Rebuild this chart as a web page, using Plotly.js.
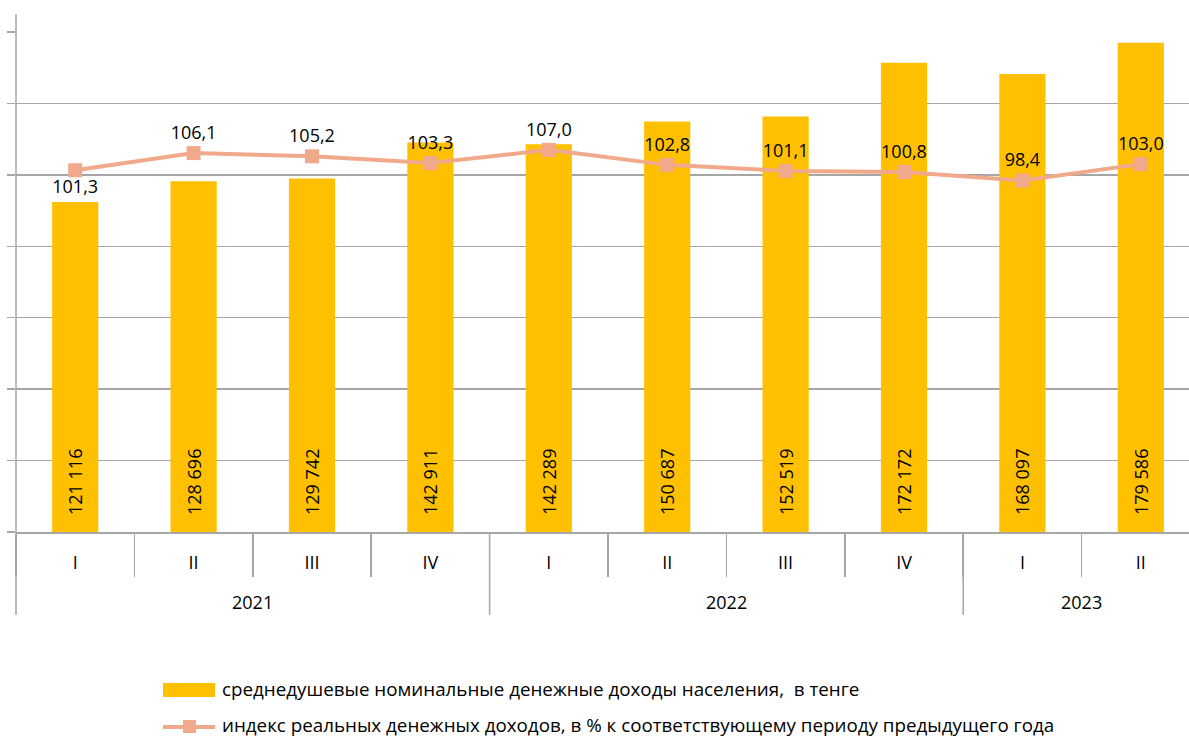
<!DOCTYPE html>
<html>
<head>
<meta charset="utf-8">
<script src="https://cdn.plot.ly/plotly-3.0.1.min.js"></script>
<style>
html,body{margin:0;padding:0;overflow:hidden;background:#fff;}
#chart{width:1200px;height:737px;}
</style>
</head>
<body>
<div id="chart"></div>
<script>
const years = ["2021","2021","2021","2021","2022","2022","2022","2022","2023","2023"];
const quarters = ["I","II","III","IV","I","II","III","IV","I","II"];
const incomes = [121116,128696,129742,142911,142289,150687,152519,172172,168097,179586];
const realIndex = [101.3,106.1,105.2,103.3,107.0,102.8,101.1,100.8,98.4,103.0];
const barName = "среднедушевые номинальные денежные доходы населения,  в тенге";
const lineName = "индекс реальных денежных доходов, в % к соответствующему периоду предыдущего года";

const FONT = "Open Sans";
const GRID = "#A6A6A6";
const BAR = "#FFC000";
const LINE = "#F1A98B";

function fmtThousands(v){
  return String(v).replace(/\B(?=(\d{3})+(?!\d))/g, "\u00a0");
}
const pos = quarters.map((q, i) => i);
const bounds = quarters.map((q, i) => i - 0.5).concat([quarters.length - 0.5]);
const barText = incomes.map(v => "\u00a0\u00a0\u00a0" + fmtThousands(v));
const lineText = realIndex.map(v => v.toFixed(1).replace(".", ","));
const linePos = realIndex.map((v,i) => i === 0 ? "bottom center" : "top center");

// year groups
const groups = [];
years.forEach((y, i) => {
  if (!groups.length || groups[groups.length-1].year !== y) groups.push({year: y, start: i, end: i});
  else groups[groups.length-1].end = i;
});

const px = v => (v - 16) / 1184;
const py = v => (532 - v) / 500;

const traces = [
  {
    type: "bar",
    x: pos,
    y: incomes,
    name: barName,
    marker: {color: BAR},
    text: barText,
    textposition: "inside",
    insidetextanchor: "start",
    textangle: -90,
    textfont: {family: FONT, size: 18, color: "#000"},
    hoverinfo: "y",
    yaxis: "y"
  },
  {
    type: "scatter",
    mode: "lines+markers+text",
    x: pos,
    y: realIndex,
    name: lineName,
    line: {color: LINE, width: 4},
    marker: {symbol: "square", size: 14, color: LINE},
    text: lineText,
    textposition: linePos,
    textfont: {family: FONT, size: 18, color: "#000"},
    cliponaxis: false,
    yaxis: "y2"
  }
];

const shapes = [
  {type: "line", xref: "paper", yref: "paper", x0: 0, x1: 0, y0: py(14), y1: py(615),
   line: {color: GRID, width: 1.5}}
];
groups.forEach(g => {
  shapes.push({type: "line", xref: "x", yref: "paper", x0: g.end + 0.5, x1: g.end + 0.5,
    y0: 0, y1: py(615), line: {color: GRID, width: 1.5}});
});
shapes.push(
  {type: "rect", xref: "paper", yref: "paper", x0: px(163), x1: px(215), y0: py(697), y1: py(683),
   fillcolor: BAR, line: {width: 0}},
  {type: "line", xref: "paper", yref: "paper", x0: px(163), x1: px(215), y0: py(727), y1: py(727),
   line: {color: LINE, width: 4}},
  {type: "rect", xref: "paper", yref: "paper", x0: px(183), x1: px(196), y0: py(733), y1: py(720),
   fillcolor: LINE, line: {width: 0}}
);

const annotations = groups.map(g => ({
  xref: "x", yref: "paper", x: (g.start + g.end) / 2, y: py(602), xanchor: "center", yanchor: "middle",
  text: g.year, showarrow: false, font: {family: FONT, size: 18, color: "#000"}
}));
annotations.push(
  {xref: "paper", yref: "paper", x: px(220), y: py(689), xanchor: "left", yanchor: "middle",
   text: barName.replace(/  /g, " \u00a0"), showarrow: false, font: {family: FONT, size: 18.8, color: "#000"}},
  {xref: "paper", yref: "paper", x: px(220), y: py(725), xanchor: "left", yanchor: "middle",
   text: lineName, showarrow: false, font: {family: FONT, size: 18.8, color: "#000"}}
);

const layout = {
  width: 1200,
  height: 737,
  margin: {l: 16, r: 0, t: 32, b: 205},
  paper_bgcolor: "#fff",
  plot_bgcolor: "rgba(0,0,0,0)",
  showlegend: false,
  bargap: 0.61,
  font: {family: FONT, size: 18, color: "#000"},
  xaxis: {
    type: "linear",
    range: [-0.5, quarters.length - 0.5],
    tickmode: "array",
    tickvals: pos,
    ticktext: quarters,
    ticks: "",
    ticklabelstandoff: 14,
    showline: true,
    linecolor: GRID,
    linewidth: 1.5,
    tickfont: {family: FONT, size: 18, color: "#000"},
    showgrid: false,
    zeroline: false,
    minor: {
      tickmode: "array",
      tickvals: bounds,
      ticks: "outside",
      ticklen: 43,
      tickcolor: GRID,
      tickwidth: 1.5,
      showgrid: false
    }
  },
  yaxis: {
    range: [0, 183500],
    showgrid: false,
    showticklabels: false,
    zeroline: false,
    showline: false,
    ticks: ""
  },
  yaxis2: {
    overlaying: "y",
    side: "left",
    range: [0, 140],
    dtick: 20,
    tick0: 0,
    showgrid: true,
    gridcolor: GRID,
    gridwidth: 1.5,
    showticklabels: false,
    ticks: "outside",
    ticklen: 8,
    tickcolor: GRID,
    tickwidth: 1.5,
    zeroline: false,
    showline: false
  },
  shapes: shapes,
  annotations: annotations
};

Plotly.newPlot("chart", traces, layout, {displayModeBar: false, staticPlot: true});
</script>
</body>
</html>
